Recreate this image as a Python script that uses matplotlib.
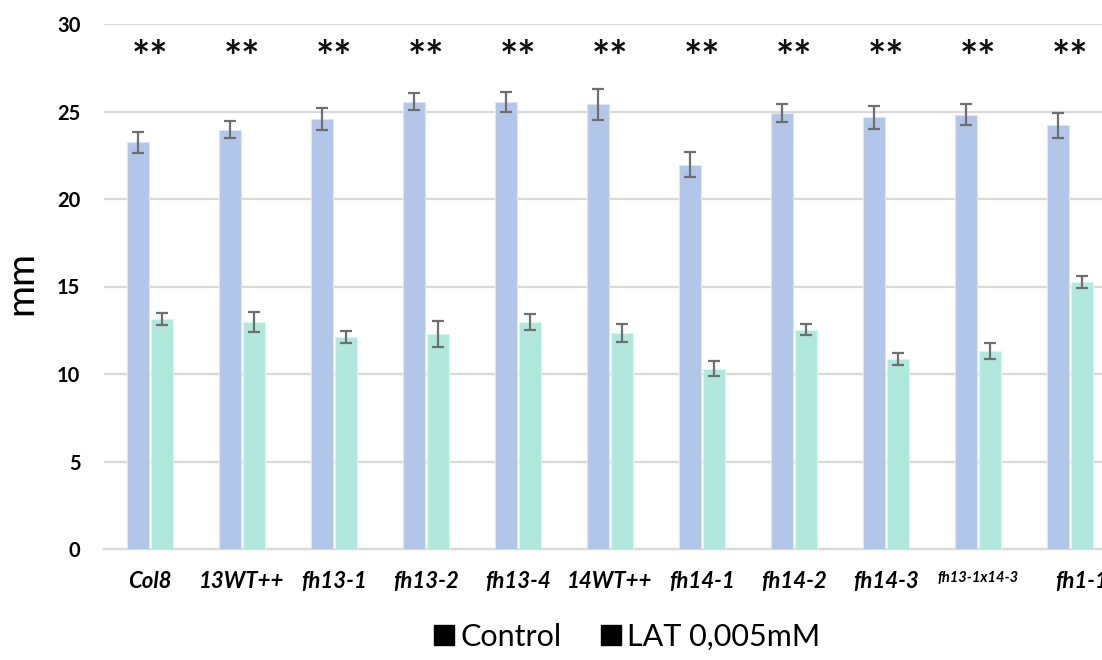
import numpy as np
import matplotlib.pyplot as plt
import matplotlib.transforms as mtransforms
from matplotlib.lines import Line2D

plt.rcParams['font.family'] = ['Lato', 'DejaVu Sans']

# root length per line, mean +/- error
lines = ['Col8', '13WT++', 'fh13-1', 'fh13-2', 'fh13-4', '14WT++',
         'fh14-1', 'fh14-2', 'fh14-3', 'fh13-1x14-3', 'fh1-1']
control = [23.24, 23.96, 24.57, 25.57, 25.55, 25.42, 21.96, 24.93, 24.67, 24.82, 24.21]
control_err = [0.59, 0.50, 0.63, 0.47, 0.56, 0.89, 0.71, 0.51, 0.67, 0.60, 0.70]
lat = [13.14, 12.97, 12.13, 12.27, 12.99, 12.34, 10.31, 12.54, 10.88, 11.31, 15.26]
lat_err = [0.32, 0.55, 0.35, 0.74, 0.45, 0.51, 0.44, 0.29, 0.34, 0.48, 0.36]
signif = ['**'] * len(lines)

x = np.arange(len(lines))
w = 0.24
off = 0.135

fig = plt.figure(figsize=(11.02, 6.6), dpi=100)
# plot area runs past the right edge, as in the cropped original
ax = fig.add_axes([104 / 1102, 1 - 549 / 660, 1012 / 1102, 525 / 660])

ekw = dict(ecolor='#6f6f6f', elinewidth=1.6, capsize=4, capthick=1.6)
ax.bar(x - off, control, w, yerr=control_err, color='#B1C6E8',
       edgecolor='#DCE6F5', linewidth=0.8, error_kw=ekw, zorder=3)
ax.bar(x + off, lat, w, yerr=lat_err, color='#B0E8DC',
       edgecolor='#DDF5EF', linewidth=0.8, error_kw=ekw, zorder=3)

for xi, s in zip(x, signif):
    ax.text(xi, 28.0, s, ha='center', va='center', fontsize=31,
            fontweight='bold', color='#111111')

ax.set_xlim(-0.5, len(lines) - 0.5)
ax.set_ylim(0, 30)
ax.set_yticks(range(0, 31, 5))
ax.yaxis.grid(True, color='#D9D9D9', linewidth=1.6, zorder=0)
ax.set_axisbelow(True)
for side in ['top', 'right', 'left']:
    ax.spines[side].set_visible(False)
ax.spines['bottom'].set_color('#D9D9D9')
ax.spines['bottom'].set_linewidth(1.6)
ax.tick_params(axis='both', length=0)
ax.tick_params(axis='y', pad=17, labelsize=14.5)
for t in ax.get_yticklabels():
    t.set_fontweight('bold')

ax.set_xticks(x)
ax.set_xticklabels(lines, fontsize=16, style='italic', fontweight='bold')
ax.tick_params(axis='x', pad=16)
ax.get_xticklabels()[9].set_fontsize(10.5)
# last label sits a little to the right and runs off the edge
last = ax.get_xticklabels()[-1]
last.set_transform(last.get_transform() +
                   mtransforms.ScaledTranslation(12 / 100, 0, fig.dpi_scale_trans))

fig.text(21 / 1102, 1 - 283 / 660, 'mm', rotation=90, ha='center',
         va='center', fontsize=28)

handles = [Line2D([], [], marker='s', linestyle='', color='black', markersize=15)
           for _ in range(2)]
fig.legend(handles, ['Control', 'LAT 0,005mM'], loc='center',
           bbox_to_anchor=(626 / 1102, 1 - 637 / 660), ncol=2, frameon=False,
           fontsize=22, handletextpad=0.15, columnspacing=1.2, handlelength=0.8)

fig.savefig('out.png', dpi=100)
